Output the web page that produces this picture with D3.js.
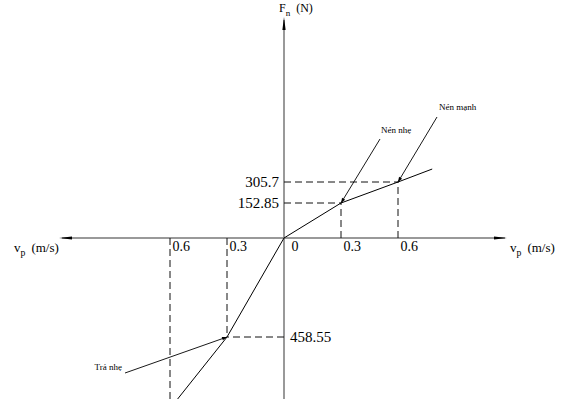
<!DOCTYPE html>
<html>
<head>
<meta charset="utf-8">
<script src="https://d3js.org/d3.v7.min.js"></script>
<style>
  body { margin: 0; background: #fff; }
  svg { display: block; }
  svg text { font-family: "Liberation Serif", "DejaVu Serif", serif; }
</style>
</head>
<body>
<div id="chart"></div>
<script>
// Set width and height for SVG object
var svgWidth = 568;
var svgHeight = 399;

// velocity ticks (m/s), rebound side is negative but printed unsigned
var velTicks = [-0.6, -0.3, 0, 0.3, 0.6];
var velTickLabels = ["0.6", "0.3", "0", "0.3", "0.6"];

// force levels marked next to the vertical axis (N)
var forceLevels = [305.7, 152.85, -458.55];
var forceLabels = ["305.7", "152.85", "458.55"];

// damper characteristic, compression branch
var compVel = [0, 0.3, 0.6, 0.78];
var compForce = [0, 152.85, 305.7, 400];

// damper characteristic, rebound branch
var rebVel = [0, -0.3, -0.6];
var rebForce = [0, -458.55, -790];

// dashed guide lines (velocity, force)
var guideVel = [0.3, 0.6, -0.3, -0.6];
var guideForce = [152.85, 305.7, -458.55, -790];

// annotations pointing at characteristic points
var noteText = ["Nén nhẹ", "Nén mạnh", "Trả nhẹ"];
var noteVel = [0.3, 0.6, -0.3];
var noteForce = [152.85, 305.7, -458.55];

var svg = d3.select("#chart")
  .append("svg")
  .attr("width", svgWidth)
  .attr("height", svgHeight);

// scales (the figure is schematic, so force axis is piecewise)
var xScale = d3.scaleLinear()
  .domain([-0.6, 0.6])
  .range([170, 398]);

var yScale = d3.scaleLinear()
  .domain([-458.55, 0, 152.85, 305.7])
  .range([337, 238, 203, 182]);

var x0 = xScale(0);
var y0 = yScale(0);

// axis lines
svg.append("line")
  .attr("x1", 62).attr("x2", 505)
  .attr("y1", y0).attr("y2", y0)
  .attr("stroke", "#777")
  .attr("stroke-width", 1.5);

svg.append("line")
  .attr("x1", x0).attr("x2", x0)
  .attr("y1", 20).attr("y2", svgHeight)
  .attr("stroke", "#777")
  .attr("stroke-width", 1.5);

// axis arrow heads
function arrowHead(tx, ty, angle, len, half) {
  svg.append("path")
    .attr("d", `M0,0 L${-len},${-half} L${-len},${half} Z`)
    .attr("transform", `translate(${tx},${ty}) rotate(${angle})`)
    .attr("fill", "#000");
}
arrowHead(507, y0, 0, 13, 1.6);
arrowHead(59, y0, 180, 13, 1.6);
arrowHead(x0, 17, -90, 13, 1.6);

// tick labels under the horizontal axis
var bottomAxis = d3.axisBottom(xScale)
  .tickValues(velTicks)
  .tickSize(0)
  .tickFormat((d, i) => velTickLabels[i]);

var xAxis = svg.append("g")
  .attr("transform", `translate(0, ${y0})`)
  .call(bottomAxis);

xAxis.select(".domain").remove();
xAxis.selectAll("text")
  .attr("text-anchor", "start")
  .attr("dx", d => d === 0 ? 7 : 2)
  .attr("dy", 0)
  .attr("y", 13)
  .style("font-family", "'Liberation Serif', serif")
  .style("font-size", "14px")
  .attr("fill", "#000");

// dashed guides
var dashed = svg.append("g")
  .attr("stroke", "#111")
  .attr("stroke-width", 1)
  .attr("stroke-dasharray", "7,4")
  .attr("fill", "none");

guideVel.forEach(function(v, i) {
  var gx = xScale(v);
  var gy = yScale(guideForce[i]);
  dashed.append("line")
    .attr("x1", gx).attr("x2", gx)
    .attr("y1", y0).attr("y2", gy);
  if (i < 3) {
    dashed.append("line")
      .attr("x1", x0).attr("x2", gx)
      .attr("y1", gy).attr("y2", gy);
  }
});

// force labels
forceLevels.forEach(function(f, i) {
  var neg = f < 0;
  svg.append("text")
    .attr("x", neg ? x0 + 6 : x0 - 5)
    .attr("y", yScale(f) + 5)
    .attr("text-anchor", neg ? "start" : "end")
    .style("font-size", "15px")
    .text(forceLabels[i]);
});

// characteristic curve
var line = d3.line()
  .x(d => xScale(d[0]))
  .y(d => yScale(d[1]));

svg.append("path")
  .datum(compVel.map((v, i) => [v, compForce[i]]))
  .attr("d", line)
  .attr("fill", "none")
  .attr("stroke", "#000")
  .attr("stroke-width", 1);

svg.append("path")
  .datum(rebVel.map((v, i) => [v, rebForce[i]]))
  .attr("d", line)
  .attr("fill", "none")
  .attr("stroke", "#000")
  .attr("stroke-width", 1);

// annotation leaders: offset of leader start and label from the point
var noteLayout = [
  { dx: 39, dy: -64, tx: 40, ty: -70, anchor: "start" },
  { dx: 39, dy: -65, tx: 41, ty: -72, anchor: "start" },
  { dx: -102, dy: 36, tx: -105, ty: 33, anchor: "end" }
];

noteText.forEach(function(t, i) {
  var px = xScale(noteVel[i]);
  var py = yScale(noteForce[i]);
  var L = noteLayout[i];
  svg.append("line")
    .attr("x1", px + L.dx).attr("y1", py + L.dy)
    .attr("x2", px).attr("y2", py)
    .attr("stroke", "#000")
    .attr("stroke-width", 0.9);
  var ang = Math.atan2(-L.dy, -L.dx) * 180 / Math.PI;
  svg.append("path")
    .attr("d", "M0,0 L-5,-1.8 L-5,1.8 Z")
    .attr("transform", `translate(${px},${py}) rotate(${ang})`)
    .attr("fill", "#000");
  svg.append("text")
    .attr("x", px + L.tx)
    .attr("y", py + L.ty)
    .attr("text-anchor", L.anchor)
    .style("font-size", "9px")
    .text(t);
});

// axis titles with subscripts
function subLabel(x, y, main, sub, rest, size) {
  var t = svg.append("text")
    .attr("x", x).attr("y", y)
    .style("font-size", size + "px");
  t.append("tspan").text(main);
  t.append("tspan").attr("dy", 4).style("font-size", (size * 0.75) + "px").text(sub);
  t.append("tspan").attr("dy", -4).attr("dx", 6).text(rest);
}
subLabel(14, 252, "v", "p", "(m/s)", 13);
subLabel(510, 252, "v", "p", "(m/s)", 13);
subLabel(279, 12, "F", "n", "(N)", 12);
</script>
</body>
</html>
